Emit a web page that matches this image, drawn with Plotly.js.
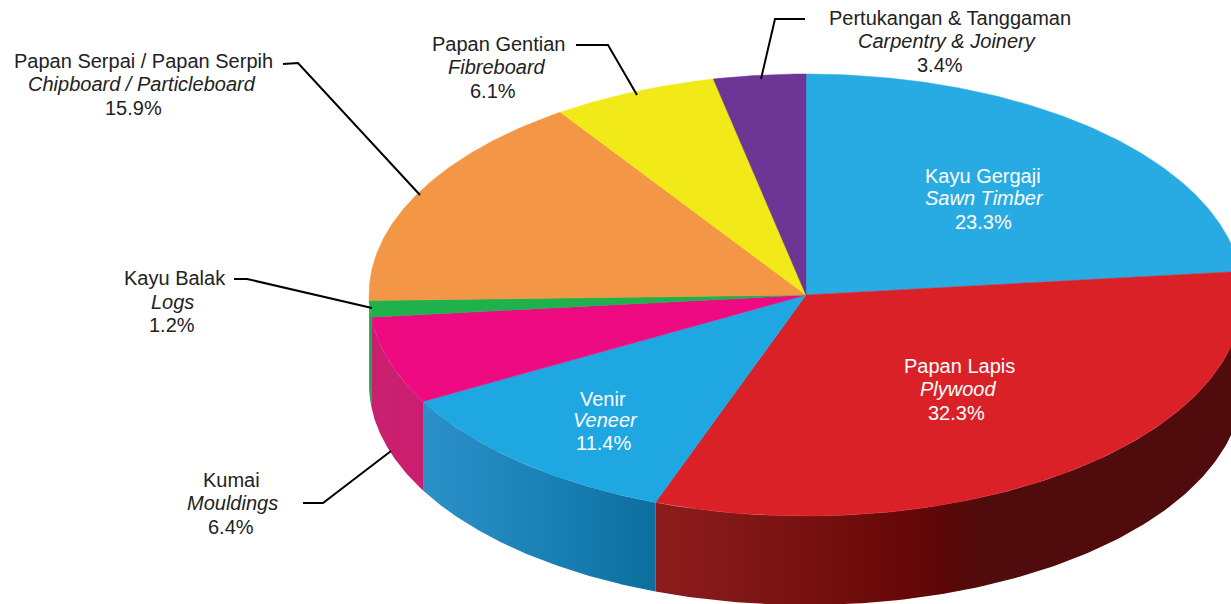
<!DOCTYPE html>
<html><head><meta charset="utf-8">
<script src="https://cdn.plot.ly/plotly-3.0.1.min.js"></script>
<style>html,body{margin:0;padding:0;background:#fff}#c{width:1231px;height:604px}</style>
</head><body><div id="c"></div>
<script>
// --- data
const names   = ["Kayu Gergaji","Papan Lapis","Venir","Kumai","Kayu Balak","Papan Serpai / Papan Serpih","Papan Gentian","Pertukangan & Tanggaman"];
const english = ["Sawn Timber","Plywood","Veneer","Mouldings","Logs","Chipboard / Particleboard","Fibreboard","Carpentry & Joinery"];
const shares  = [23.3,32.3,11.4,6.4,1.2,15.9,6.1,3.4];
const colours = ["#28abe3","#da2128","#1ea7e0","#ee0a80","#1fb14c","#f39645","#f2ea18","#6d3594"];
const textColours = ["#fff","#fff","#fff","#222","#222","#222","#222","#222"];

// --- presentation
const cx=806, cy=295, rx=437, ry=221, depth=89;
const labelX = [[983,984,983],[959,958,956],[603,605,603],[231,232,231],[175,172,172],[143,142,133],[498,497,493],[950,947,940]];
const labelY = [[176,198,222],[366,389,413],[399,420,443],[480,503,527],[278,302,325],[61,84,108],[44,67,91],[18,41,65]];
const leaders = [null,null,null,
  [[303,323,391],[503,503,451]],
  [[234,247,372],[279,279,308]],
  [[283,298,420],[64,63,195]],
  [[576,608,637],[45,45,95]],
  [[805,775,761],[19,19,79]]];
const sideFill = {
  1:[[0,"#8c1c1c"],[0.2,"#7c1414"],[0.42,"#680808"],[0.5,"#5a0808"],[0.56,"#500c0c"],[1,"#500c0c"]],
  2:[[0,"#2b90c8"],[0.5,"#1b82b6"],[1,"#0c6e9e"]],
  3:[[0,"#c8206f"],[1,"#cc1e70"]],
  4:[[0,"#1fa04a"],[1,"#1fa04a"]]
};

const pt = (d,dy=0)=>{const t=d*Math.PI/180;return [cx+rx*Math.sin(t),cy-ry*Math.cos(t)+dy];};
const traces=[];
let a=0;
// the printed shares add up to 100.3, so the last slice simply closes the circle
const spans = shares.map((s,i)=>{const b=i===shares.length-1?360:a+s*3.6;const r=[a,b];a=b;return r;});

// side walls (only the front half of the rim is visible)
spans.forEach(([a0,a1],i)=>{
  if(!sideFill[i]) return;
  const s=Math.max(a0,90), e=Math.min(a1,270);
  const xs=[],ys=[];
  for(let k=0;k<=120;k++){const p=pt(s+(e-s)*k/120);xs.push(p[0]);ys.push(p[1]);}
  for(let k=120;k>=0;k--){const p=pt(s+(e-s)*k/120,depth);xs.push(p[0]);ys.push(p[1]);}
  const xa=Math.min(...xs), xb=Math.max(...xs);
  traces.push({type:"scatter",mode:"lines",x:xs,y:ys,fill:"toself",line:{width:0},hoverinfo:"skip",
    fillcolor:sideFill[i][0][1],
    fillgradient:{type:"horizontal",colorscale:sideFill[i],start:xa,stop:xb}});
});

// top faces
spans.forEach(([a0,a1],i)=>{
  const xs=[cx],ys=[cy];
  const n=Math.max(8,Math.round(a1-a0)*2);
  for(let k=0;k<=n;k++){const p=pt(a0+(a1-a0)*k/n);xs.push(p[0]);ys.push(p[1]);}
  xs.push(cx);ys.push(cy);
  traces.push({type:"scatter",mode:"lines",x:xs,y:ys,fill:"toself",fillcolor:colours[i],
    line:{width:0.5,color:colours[i]},hoverinfo:"skip"});
});

// leaders
leaders.forEach(l=>{ if(l) traces.push({type:"scatter",mode:"lines",x:l[0],y:l[1],line:{color:"#000",width:2},hoverinfo:"skip"}); });

// labels
const annotations=[];
names.forEach((n,i)=>{
  [n,"<i>"+english[i]+"</i>",shares[i].toFixed(1)+"%"].forEach((t,j)=>{
    annotations.push({x:labelX[i][j],y:labelY[i][j],xref:"x",yref:"y",text:t,showarrow:false,xanchor:"center",yanchor:"middle",
      font:{family:'"Liberation Sans",Arial,sans-serif',size:20,color:textColours[i]}});
  });
});

Plotly.newPlot("c",traces,{
  width:1231,height:604,margin:{l:0,r:0,t:0,b:0},showlegend:false,
  paper_bgcolor:"#fff",plot_bgcolor:"#fff",
  xaxis:{range:[0,1231],visible:false,fixedrange:true},
  yaxis:{range:[604,0],visible:false,fixedrange:true},
  annotations
},{staticPlot:true,displayModeBar:false});
</script></body></html>
